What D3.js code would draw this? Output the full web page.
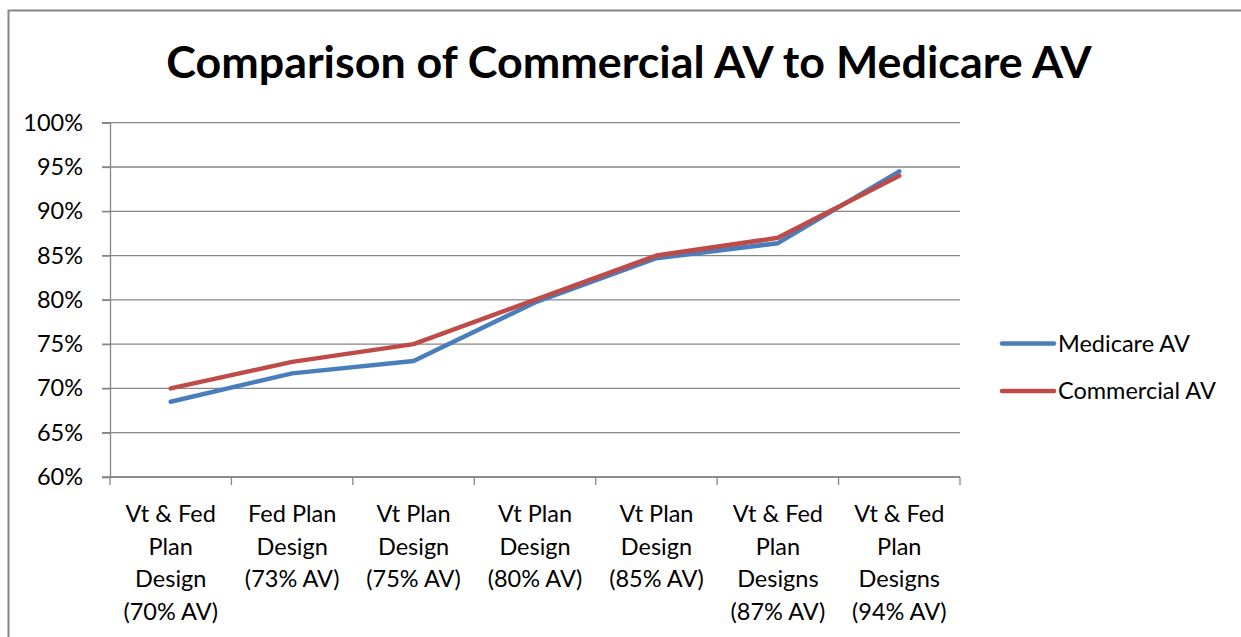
<!DOCTYPE html>
<html><head><meta charset="utf-8">
<script src="https://cdn.jsdelivr.net/npm/d3@7"></script>
<style>html,body{margin:0;padding:0;background:#fff;}svg{display:block;}</style>
</head><body>
<script>
const title = "Comparison of Commercial AV to Medicare AV";
const categories = [
  ["Vt & Fed", "Plan", "Design", "(70% AV)"],
  ["Fed Plan", "Design", "(73% AV)"],
  ["Vt Plan", "Design", "(75% AV)"],
  ["Vt Plan", "Design", "(80% AV)"],
  ["Vt Plan", "Design", "(85% AV)"],
  ["Vt & Fed", "Plan", "Designs", "(87% AV)"],
  ["Vt & Fed", "Plan", "Designs", "(94% AV)"]
];
const medicareAV = [0.685, 0.717, 0.731, 0.797, 0.847, 0.864, 0.945];
const commercialAV = [0.70, 0.73, 0.75, 0.80, 0.85, 0.87, 0.94];
const seriesNames = ["Medicare AV", "Commercial AV"];
const seriesColors = ["#4A7EBB", "#BE4B48"];
const yTicks = [0.60, 0.65, 0.70, 0.75, 0.80, 0.85, 0.90, 0.95, 1.00];

const W = 1241, H = 637;
const font = "Lato, 'Open Sans', sans-serif";
const grid = "#868686";
const fs = 23.5;
const m = {left: 110, right: 960, top: 122.7, bottom: 477};

const svg = d3.select("body").append("svg").attr("width", W).attr("height", H);
svg.append("rect").attr("width", W).attr("height", H).attr("fill", "#fff");
svg.append("path").attr("d", `M8.5,${H} L8.5,10.5 L${W},10.5`).attr("fill", "none")
  .attr("stroke", grid).attr("stroke-width", 2);

svg.append("text").attr("x", 629).attr("y", 78).attr("text-anchor", "middle")
  .attr("font-family", font).attr("font-weight", "bold").attr("font-size", 44.8)
  .attr("fill", "#000").text(title);

const x = d3.scaleBand().domain(d3.range(categories.length)).range([m.left, m.right]).padding(0);
const y = d3.scaleLinear().domain([0.6, 1.0]).range([m.bottom, m.top]);

// gridlines
svg.append("g").selectAll("line").data(yTicks).join("line")
  .attr("x1", m.left - 8).attr("x2", m.right)
  .attr("y1", d => y(d)).attr("y2", d => y(d))
  .attr("stroke", grid).attr("stroke-width", 1.3);

// y axis
const yAxis = svg.append("g").attr("transform", `translate(${m.left},0)`)
  .call(d3.axisLeft(y).tickValues(yTicks).tickFormat(d3.format(".0%")).tickSize(8).tickPadding(19));
yAxis.select(".domain").attr("stroke", grid).attr("stroke-width", 1.3);
yAxis.selectAll(".tick line").attr("stroke", grid).attr("stroke-width", 1.3);
yAxis.selectAll(".tick text").attr("font-family", font).attr("font-size", fs).attr("fill", "#000");

// x axis
const xAxis = svg.append("g").attr("transform", `translate(0,${m.bottom})`);
xAxis.append("line").attr("x1", m.left).attr("x2", m.right).attr("stroke", grid).attr("stroke-width", 1.3);
const bounds = d3.range(categories.length + 1).map(i => i < categories.length ? x(i) : x(categories.length - 1) + x.bandwidth());
xAxis.selectAll("line.t").data(bounds).join("line").attr("class", "t")
  .attr("x1", d => d).attr("x2", d => d).attr("y1", 0).attr("y2", 8)
  .attr("stroke", grid).attr("stroke-width", 1.3);
const labels = xAxis.selectAll("text.c").data(categories).join("text").attr("class", "c")
  .attr("text-anchor", "middle").attr("font-family", font).attr("font-size", fs).attr("fill", "#000")
  .attr("transform", (d, i) => `translate(${x(i) + x.bandwidth() / 2},45)`);
labels.selectAll("tspan").data(d => d).join("tspan")
  .attr("x", 0).attr("y", (d, i) => i * 32.5).text(d => d);

// lines
const line = d3.line().x((d, i) => x(i) + x.bandwidth() / 2).y(d => y(d));
[medicareAV, commercialAV].forEach((s, k) => {
  svg.append("path").datum(s).attr("d", line).attr("fill", "none")
    .attr("stroke", seriesColors[k]).attr("stroke-width", 4.5)
    .attr("stroke-linecap", "round").attr("stroke-linejoin", "round");
});

// legend
const lg = svg.append("g");
seriesNames.forEach((n, k) => {
  const ly = 343.5 + k * 47.5;
  lg.append("line").attr("x1", 1002).attr("x2", 1054).attr("y1", ly).attr("y2", ly)
    .attr("stroke", seriesColors[k]).attr("stroke-width", 4.5).attr("stroke-linecap", "round");
  lg.append("text").attr("x", 1058).attr("y", ly + 8).attr("font-family", font).attr("font-size", fs)
    .attr("fill", "#000").text(n);
});
</script>
</body></html>
